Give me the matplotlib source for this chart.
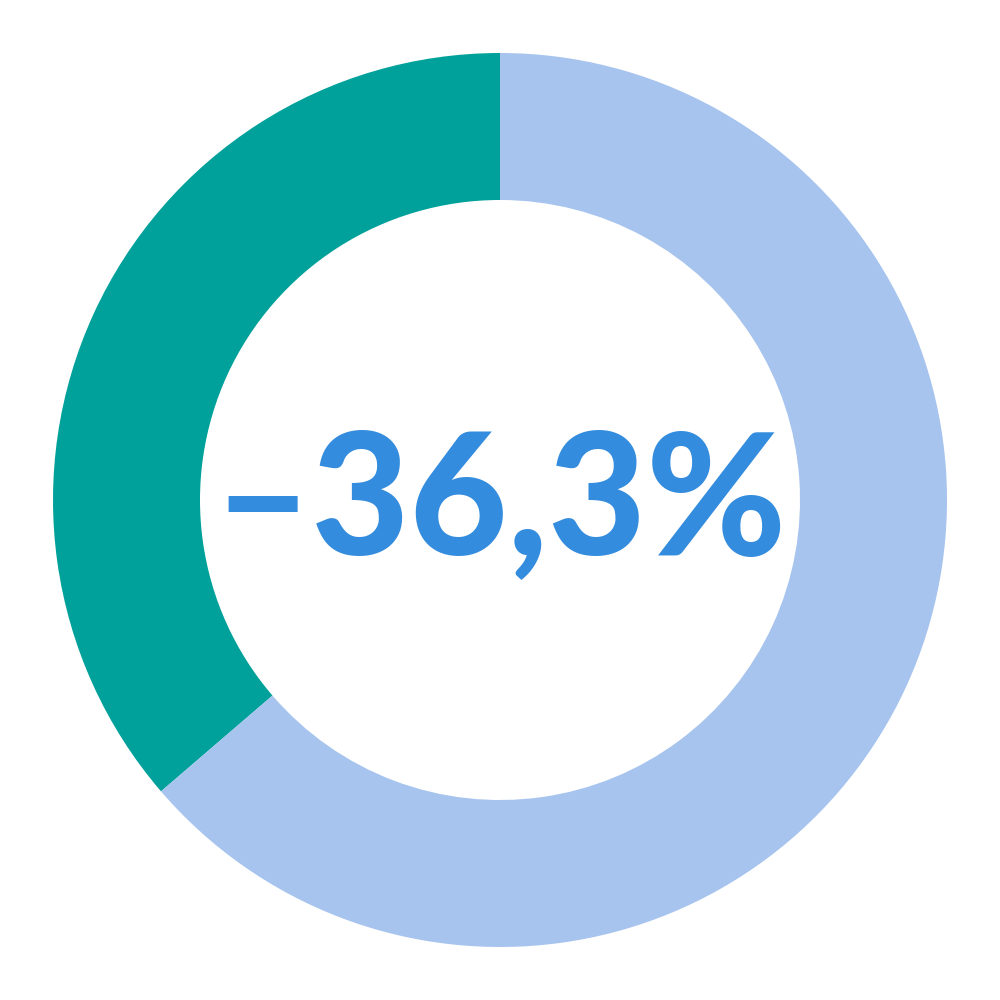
import matplotlib
matplotlib.use("Agg")
import matplotlib.pyplot as plt

# Shares of the ring (percent)
labels = ["decline", "rest"]
shares = [36.3, 63.7]
colors = ["#00A19A", "#A7C4EE"]
center_label = "–36,3%"

fig = plt.figure(figsize=(10, 10), dpi=100)
ax = fig.add_axes([0, 0, 1, 1])

ax.pie(shares, colors=colors, startangle=90, counterclock=True,
       radius=1.0, wedgeprops=dict(width=147 / 447, edgecolor="none"))

ax.text(0, -0.01, center_label, ha="center", va="center", fontsize=122,
        color="#338CDD", fontfamily="Lato", fontweight="black")

lim = 500 / 447
ax.set_xlim(-lim, lim)
ax.set_ylim(-lim, lim)
ax.set_aspect("equal")
ax.axis("off")

fig.savefig("out.png", dpi=100, facecolor="white")
